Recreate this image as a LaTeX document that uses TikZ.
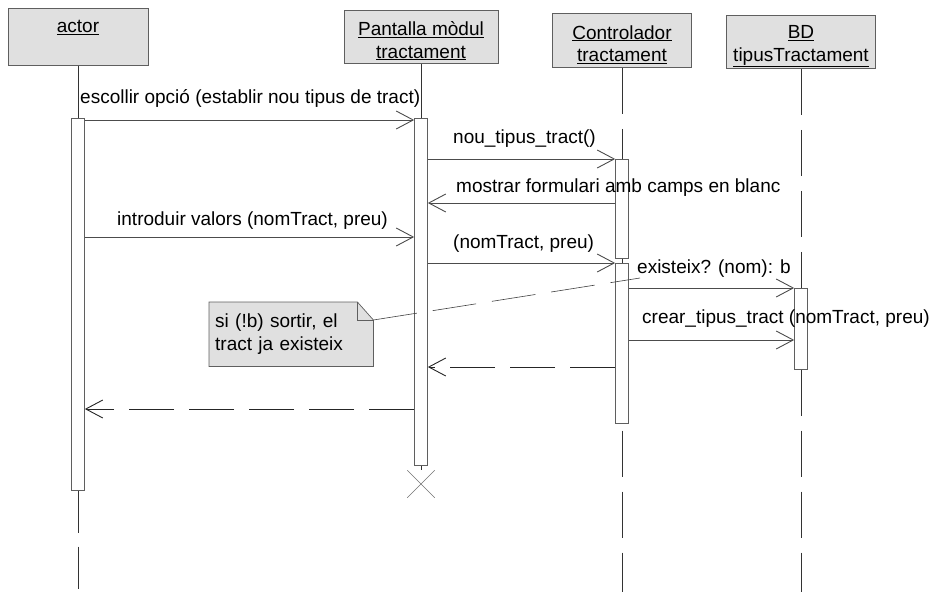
\documentclass[tikz,border=0pt]{standalone}
\usepackage{fontspec}
\setmainfont{Liberation Sans}
\usetikzlibrary{arrows.meta,calc,shapes.misc,backgrounds}
\definecolor{boxgray}{RGB}{224,224,224}
\definecolor{edgegray}{RGB}{95,95,95}
\tikzset{
  seq/.style={
    x=1pt, y=-1pt,
    font=\fontsize{19}{22.5}\selectfont
  },
  object/.style={
    rectangle, anchor=north, align=center,
    draw=edgegray, fill=boxgray,
    line width=0.8pt, inner sep=0pt
  },
  activation/.style={
    rectangle, anchor=north,
    draw=edgegray, fill=white,
    line width=0.7pt, minimum width=13pt, inner sep=0pt
  },
  lifeline/.style={line width=0.8pt, draw=black!80},
  lifedash/.style={lifeline, dash pattern=on 46pt off 15pt},
  call/.style={
    line width=0.6pt, draw=black!70,
    -{Straight Barb[length=17pt,width=18pt,line width=0.9pt]}
  },
  reply/.style={call, draw=black!85, dash pattern=on 45pt off 15pt},
  msglabel/.style={anchor=base west, inner sep=0pt},
  notebox/.style={
    anchor=north west, align=left,
    text width=152pt, minimum height=64pt,
    inner xsep=6pt, inner ysep=0pt
  },
  notelink/.style={line width=0.6pt, draw=black!75, dash pattern=on 44pt off 16pt}
}
% two underlined lines, set a little low in the box
\newcommand{\objname}[2]{\rule{0pt}{22pt}\underline{#1}\\\underline{#2}}

\begin{document}
\begin{tikzpicture}[seq]
  \useasboundingbox (0,0) rectangle (930,592);
  % objects
  \node[object, minimum width=140pt, minimum height=57pt,
        text height=20pt, text depth=29pt] (actor) at (78,8) {\underline{actor}};
  \node[object, minimum width=154pt, minimum height=53pt] (pant) at (421,10)
    {\objname{Pantalla mòdul}{tractament}};
  \node[object, minimum width=139pt, minimum height=54pt] (ctrl) at (622,13)
    {\objname{Controlador}{tractament}};
  \node[object, minimum width=149pt, minimum height=53pt] (bd) at (801,15)
    {\objname{BD}{tipusTractament}};

  % activations
  \node[activation, minimum height=372pt] (abar) at (78,118) {};
  \node[activation, minimum height=347pt] (pbar) at (421,118) {};
  \node[activation, minimum height=99pt] (cbar1) at (622,159) {};
  \node[activation, minimum height=160pt] (cbar2) at (622,263) {};
  \node[activation, minimum height=81pt] (bdbar) at (801,288) {};
  \node[cross out, draw=black!55, line width=0.5pt, minimum size=27pt,
        inner sep=0pt] (pend) at (421,484) {};

  % lifelines
  \coordinate (bottom) at (0,592);
  \draw[lifeline] (actor.south) -- (abar.north);
  \draw[lifeline, dash pattern=on 42pt off 14pt] (abar.south) -- (abar.south |- bottom);
  \draw[lifeline] (pant.south) -- (pbar.north);
  \draw[lifeline] (pbar.south) -- (pend.north);
  \draw[lifedash] (ctrl.south) -- (cbar1.north);
  \draw[lifeline] (cbar1.south) -- (cbar2.north);
  \draw[lifedash] ([yshift=-7pt]cbar2.south) -- (cbar2.south |- bottom);
  \draw[lifedash] (bd.south) -- (bdbar.north);
  \draw[lifedash] (bdbar.south) -- (bdbar.south |- bottom);

  % messages
  \foreach \m/\y in {m1/120,m2/159,m3/203,m4/237,m5/263,m6/288,m7/340,r1/367,r2/409}
    \coordinate (\m) at (0,\y);
  \draw[call] (abar.east |- m1) -- (pbar.west |- m1);
  \draw[call] (pbar.east |- m2) -- (cbar1.west |- m2);
  \draw[call] (cbar1.west |- m3) -- (pbar.east |- m3);
  \draw[call] (abar.east |- m4) -- (pbar.west |- m4);
  \draw[call] (pbar.east |- m5) -- (cbar2.west |- m5);
  \draw[call] (cbar2.east |- m6) -- (bdbar.west |- m6);
  \draw[call] (cbar2.east |- m7) -- (bdbar.west |- m7);
  \draw[reply] (cbar2.west |- r1) -- (pbar.east |- r1);
  \draw[reply] (pbar.west |- r2) -- (abar.east |- r2);

  \node[msglabel] (l1) at (80,103) {escollir opció (establir nou tipus de tract)};
  \node[msglabel] (l2) at (453,143) {nou\_tipus\_tract()};
  \node[msglabel] (l3) at (456,192) {mostrar formulari amb camps en blanc};
  \node[msglabel] (l4) at (117,225) {introduir valors (nomTract, preu)};
  \node[msglabel] (l5) at (453,248) {(nomTract, preu)};
  \node[msglabel] (l6) at (637,273) {existeix? (nom): b};
  \node[msglabel] (l7) at (642,323) {crear\_tipus\_tract (nomTract, preu)};

  % note
  \node[notebox] (note) at (209,302) {si (!b) sortir, el\\tract ja existeix};
  \coordinate (fold) at ($(note.north east)+(0,18)$);
  \begin{scope}[on background layer]
    \filldraw[draw=edgegray, fill=boxgray, line width=0.7pt]
      (note.south west) -- (note.north west) -- ($(note.north east)+(-16,0)$)
      -- (fold) -- (note.south east) -- cycle;
  \end{scope}
  \draw[edgegray, line width=0.6pt] ($(note.north east)+(-16,0)$) |- (fold);
  \coordinate (noteend) at (640,278);
  \draw[notelink] (fold) -- (noteend);
\end{tikzpicture}
\end{document}
